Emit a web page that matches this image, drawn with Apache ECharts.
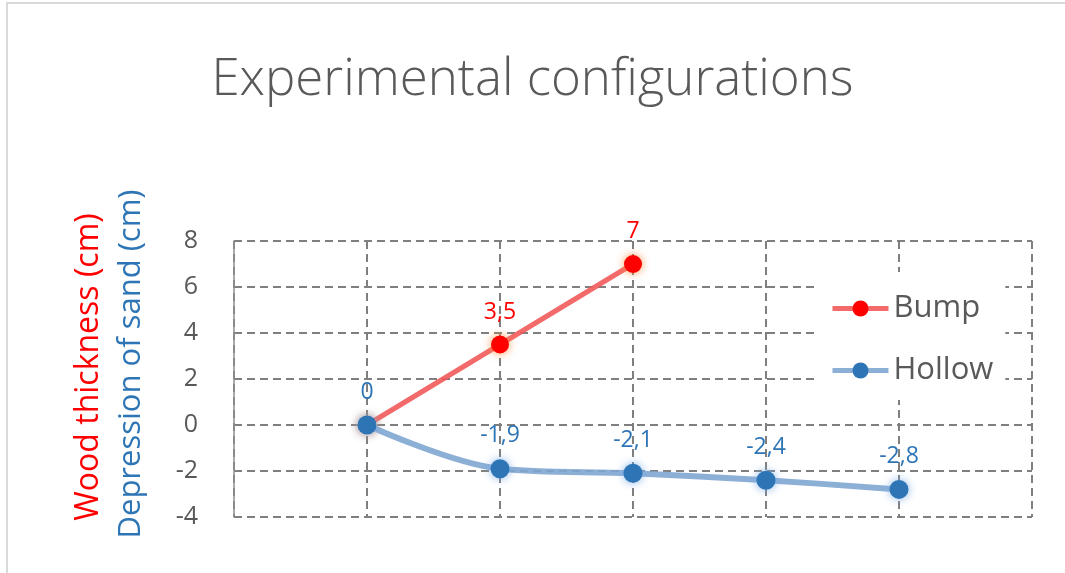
<!DOCTYPE html>
<html>
<head>
<meta charset="utf-8">
<script src="https://cdn.jsdelivr.net/npm/echarts@6/dist/echarts.min.js"></script>
<style>
  html, body { margin: 0; padding: 0; background: #fff; }
  #chart { width: 1065px; height: 573px; }
</style>
</head>
<body>
<div id="chart"></div>
<script>
// Configuration positions along the horizontal axis
const configIndex = [1, 2, 3, 4, 5];
// Wood thickness for the bump configurations (cm)
const bumpValues = [0, 3.5, 7];
// Depression of sand for the hollow configurations (cm)
const hollowValues = [0, -1.9, -2.1, -2.4, -2.8];
// Vertical axis range and step
const yMin = -4, yMax = 8, yStep = 2;
const xMin = 0, xMax = 6;

const FONT = 'Open Sans';
const GREY = '#595959';
const RED = '#ff0000';
const BLUE = '#2e75b6';
const BUMP_LINE = '#f25a5a';
const HOLLOW_LINE = '#7fa6d2';

const fmtComma = v => String(v).replace('.', ',');

const toPairs = vals => vals.map((v, i) => [configIndex[i], v]);

const chart = echarts.init(document.getElementById('chart'));

const option = {
  backgroundColor: '#fff',
  animation: false,
  textStyle: { fontFamily: FONT },
  title: {
    text: 'Experimental configurations',
    left: 'center',
    top: 50,
    textStyle: { fontFamily: FONT, fontSize: 51, fontWeight: 300, color: GREY }
  },
  graphic: [
    {
      type: 'rect',
      silent: true,
      shape: { x: 7, y: 3, width: 1200, height: 700 },
      style: { fill: 'none', stroke: '#d9d9d9', lineWidth: 2 }
    },
    {
      type: 'text',
      x: 89, y: 367, rotation: Math.PI / 2,
      style: {
        text: 'Wood thickness (cm)', fill: RED,
        font: '32px "Open Sans"', align: 'center', verticalAlign: 'middle'
      }
    },
    {
      type: 'text',
      x: 131, y: 364, rotation: Math.PI / 2,
      style: {
        text: 'Depression of sand (cm)', fill: BLUE,
        font: '31px "Open Sans"', align: 'center', verticalAlign: 'middle'
      }
    }
  ],
  legend: {
    orient: 'vertical',
    left: 817,
    top: 272,
    padding: [21, 12, 14, 13],
    backgroundColor: '#fff',
    itemWidth: 56,
    itemHeight: 20,
    itemGap: 31,
    textStyle: { fontFamily: FONT, fontSize: 31, color: GREY },
    data: [
      { name: 'Bump', lineStyle: { width: 5, color: BUMP_LINE } },
      { name: 'Hollow', lineStyle: { width: 5, color: HOLLOW_LINE } }
    ]
  },
  grid: { left: 234, right: 33, top: 241, bottom: 56 },
  xAxis: {
    type: 'value',
    min: xMin, max: xMax, interval: 1,
    axisLine: { show: false },
    axisTick: { show: false },
    axisLabel: { show: false },
    splitLine: { show: true, lineStyle: { color: '#7f7f7f', width: 2, type: [8, 5] } }
  },
  yAxis: {
    type: 'value',
    min: yMin, max: yMax, interval: yStep,
    axisLine: { show: true, lineStyle: { color: '#8c8c8c', width: 1.5 } },
    axisTick: { show: false },
    axisLabel: { margin: 36, fontFamily: FONT, fontSize: 25, color: GREY },
    splitLine: { show: true, lineStyle: { color: '#7f7f7f', width: 2, type: [8, 5] } }
  },
  series: [
    {
      name: 'Bump',
      type: 'line',
      data: toPairs(bumpValues),
      symbol: 'circle',
      symbolSize: 18,
      lineStyle: { color: BUMP_LINE, width: 5, opacity: 0.9 },
      itemStyle: { color: RED, shadowBlur: 8, shadowColor: 'rgba(255,140,60,0.9)' },
      label: {
        show: true, position: 'top', distance: 12,
        fontFamily: FONT, fontSize: 23, color: RED,
        formatter: p => p.dataIndex === 0 ? '' : fmtComma(p.value[1])
      },
      z: 3
    },
    {
      name: 'Hollow',
      type: 'line',
      data: toPairs(hollowValues),
      smooth: 0.35,
      symbol: 'circle',
      symbolSize: 19,
      lineStyle: { color: HOLLOW_LINE, width: 6, opacity: 0.9 },
      itemStyle: { color: BLUE, shadowBlur: 8, shadowColor: 'rgba(120,170,230,0.9)' },
      label: {
        show: true, position: 'top', distance: 12,
        fontFamily: FONT, fontSize: 23, color: BLUE,
        formatter: p => fmtComma(p.value[1])
      },
      z: 4
    }
  ]
};

chart.setOption(option);
</script>
</body>
</html>
